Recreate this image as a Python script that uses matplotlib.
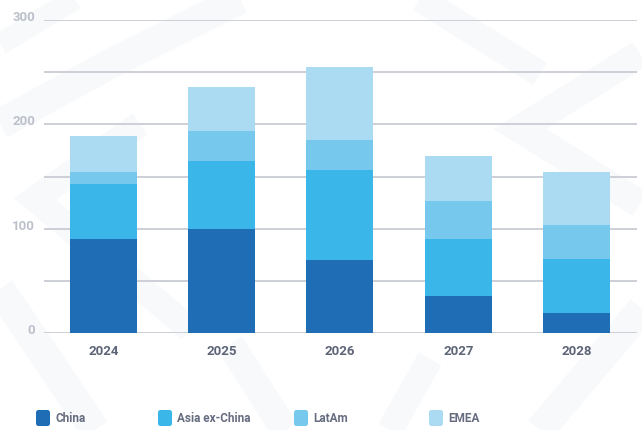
import matplotlib.pyplot as plt
from matplotlib.patches import FancyBboxPatch
from matplotlib.lines import Line2D

years = ['2024', '2025', '2026', '2027', '2028']
china = [90, 100, 70, 36, 19]
asia_ex_china = [52.5, 65, 86, 54.5, 52.5]
latam = [11.5, 28.5, 28.5, 36.5, 32.5]
emea = [34.5, 42, 70.5, 43, 50.5]

series_names = ['China', 'Asia ex-China', 'LatAm', 'EMEA']
series_values = [china, asia_ex_china, latam, emea]
colors = ['#1f6eb5', '#3ab6e8', '#76c8ec', '#aadbf3']

W, H = 642, 431
plt.rcParams['font.family'] = ['Roboto', 'DejaVu Sans']

fig = plt.figure(figsize=(W / 100, H / 100), dpi=100)
fig.patch.set_facecolor('white')

# faint watermark bands behind the chart (pixel coords, y from top)
bands = [
    ([(0, 45), (75, 0)], 22),
    ([(0, 125), (110, 65), (240, 0)], 30),
    ([(140, 125), (35, 200), (190, 330)], 26),
    ([(0, 290), (95, 431)], 30),
    ([(230, 345), (285, 431)], 28),
    ([(640, 55), (520, 130), (640, 205)], 28),
    ([(420, 0), (540, 75)], 26),
    ([(642, 310), (540, 431)], 30),
    ([(430, 360), (390, 431)], 26),
]
for pts, lw in bands:
    xs = [p[0] / W for p in pts]
    ys = [1 - p[1] / H for p in pts]
    fig.add_artist(Line2D(xs, ys, transform=fig.transFigure, color='#f8f9fb',
                          lw=lw / 1.389, solid_joinstyle='miter',
                          solid_capstyle='butt', zorder=-5))

ax = fig.add_axes([44 / W, 1 - 334.3 / H, (637 - 44) / W, (334.3 - 20.7) / H])
ax.patch.set_visible(False)

x = list(range(len(years)))
bottom = [0] * len(years)
for name, vals, c in zip(series_names, series_values, colors):
    ax.bar(x, vals, width=0.567, bottom=bottom, color=c, label=name, zorder=3)
    bottom = [b + v for b, v in zip(bottom, vals)]

ax.set_ylim(0, 300)
ax.set_xlim(-0.503, 4.512)
ax.set_yticks(range(0, 301, 50))
ax.set_yticklabels([])
ax.grid(axis='y', color='#c9ccd4', lw=1.3, zorder=0)
ax.set_axisbelow(True)
for s in ax.spines.values():
    s.set_visible(False)

for v in [0, 100, 200, 300]:
    ax.text(-9 / 593, v, str(v), transform=ax.get_yaxis_transform(),
            ha='right', va='baseline', fontsize=9.5, fontweight='bold',
            color='#bcc0ca')

ax.set_xticks(x)
ax.set_xticklabels(years, fontweight='bold')
ax.tick_params(axis='x', length=0, pad=8, labelsize=9.5, labelcolor='#5d6477')
ax.tick_params(axis='y', length=0)

# legend row along the bottom
legend_x = [36, 158, 294, 429]
for name, c, lx in zip(series_names, colors, legend_x):
    fig.add_artist(FancyBboxPatch((lx / 100, (H - 427) / 100), 0.14, 0.16,
                                  boxstyle='round,pad=0,rounding_size=0.025',
                                  transform=fig.dpi_scale_trans,
                                  facecolor=c, edgecolor='none'))
    fig.text((lx + 19) / W, 1 - 418.5 / H, name, ha='left', va='center',
             fontsize=8.5, fontweight='bold', color='#676d80')

fig.savefig('out.png', dpi=100)
